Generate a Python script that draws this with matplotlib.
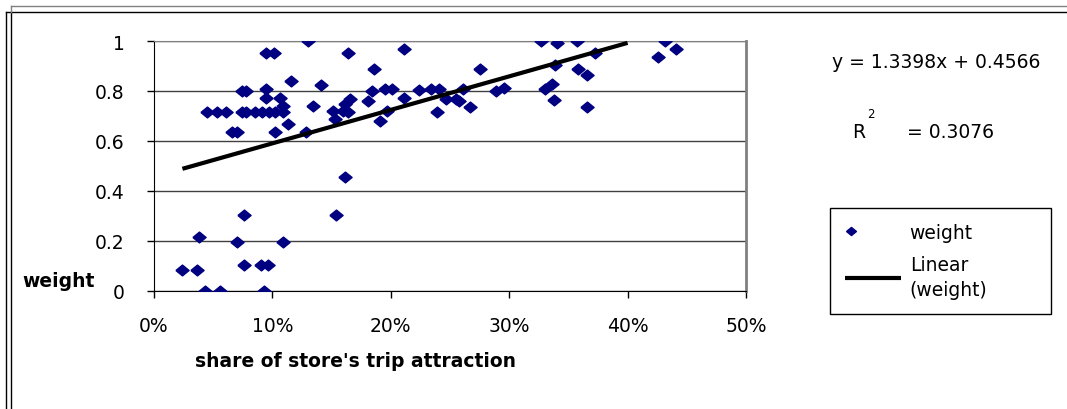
import matplotlib
matplotlib.use('Agg')
import matplotlib.pyplot as plt
from matplotlib.lines import Line2D
from matplotlib.legend_handler import HandlerLine2D

plt.rcParams['font.family'] = ['DejaVu Sans']

# share of store's trip attraction (fraction) and weight for each store
share = [0.024, 0.036, 0.038, 0.043, 0.056, 0.070, 0.076, 0.076, 0.090, 0.096,
         0.093, 0.109, 0.154, 0.161,
         0.045, 0.053, 0.061, 0.074, 0.078, 0.085, 0.091, 0.097, 0.102, 0.109,
         0.066, 0.070, 0.102, 0.113, 0.128, 0.074, 0.078, 0.095, 0.095, 0.106,
         0.109, 0.134, 0.116, 0.141, 0.095, 0.101, 0.130,
         0.151, 0.153, 0.160, 0.164, 0.161, 0.1655, 0.164, 0.181, 0.184, 0.186,
         0.191, 0.1965, 0.195, 0.201, 0.211, 0.211, 0.224, 0.234, 0.241, 0.239,
         0.247, 0.255, 0.258, 0.261, 0.267, 0.275, 0.289, 0.296,
         0.327, 0.340, 0.357, 0.3725, 0.339, 0.358, 0.366, 0.336, 0.330, 0.338,
         0.366, 0.426, 0.432, 0.441]
weight = [0.085, 0.085, 0.215, 0.0, 0.0, 0.195, 0.305, 0.105, 0.105, 0.105,
          0.0, 0.195, 0.305, 0.455,
          0.715, 0.715, 0.715, 0.715, 0.715, 0.715, 0.715, 0.715, 0.715, 0.715,
          0.635, 0.635, 0.635, 0.668, 0.637, 0.800, 0.800, 0.810, 0.772, 0.772,
          0.741, 0.739, 0.842, 0.825, 0.952, 0.952, 1.0,
          0.719, 0.688, 0.721, 0.715, 0.748, 0.768, 0.952, 0.761, 0.801, 0.888,
          0.681, 0.721, 0.810, 0.810, 0.968, 0.773, 0.805, 0.808, 0.808, 0.715,
          0.768, 0.768, 0.759, 0.808, 0.737, 0.888, 0.800, 0.812,
          1.0, 0.991, 1.0, 0.952, 0.905, 0.888, 0.865, 0.828, 0.808, 0.763,
          0.737, 0.935, 1.0, 0.968]

# linear trendline
slope = 1.3398
intercept = 0.4566
r_squared = 0.3076
trend_x = [0.024, 0.40]

x_ticks = [0, 0.1, 0.2, 0.3, 0.4, 0.5]
x_labels = ['0%', '10%', '20%', '30%', '40%', '50%']
y_ticks = [0, 0.2, 0.4, 0.6, 0.8, 1.0]
y_labels = ['0', '0.2', '0.4', '0.6', '0.8', '1']

FS = 13.5


class LeftMarker(HandlerLine2D):
    # single legend marker sits near the left end of the handle box
    def get_xdata(self, legend, xdescent, ydescent, width, height, fontsize):
        x0 = -xdescent
        return [x0, x0 + 0.2 * width], [x0 + 0.1 * width]


W, H = 1067, 410
fig = plt.figure(figsize=(W / 100, H / 100), dpi=100)
ax = fig.add_axes([154 / W, 1 - 292 / H, 592 / W, 250 / H])

diamond = [(-1, 0), (0, 0.82), (1, 0), (0, -0.82), (-1, 0)]
pts, = ax.plot(share, weight, linestyle='none', marker=diamond, markersize=9.5,
               color='#000080', label='weight', zorder=3)

trend_y = [slope * x + intercept for x in trend_x]
ax.plot(trend_x, trend_y, color='black', linewidth=3, label='Linear\n(weight)',
        zorder=4, solid_capstyle='butt')

ax.set_xlim(0, 0.5)
ax.set_ylim(0, 1)
ax.set_xticks(x_ticks)
ax.set_xticklabels(x_labels)
ax.set_yticks(y_ticks)
ax.set_yticklabels(y_labels)
ax.tick_params(axis='both', labelsize=FS, length=5, width=1, color='black',
               direction='out')
ax.tick_params(axis='y', pad=16)
ax.tick_params(axis='x', pad=13)

ax.grid(axis='y', color='#404040', linewidth=1)
ax.set_axisbelow(True)
ax.spines['left'].set_color('black')
ax.spines['bottom'].set_color('black')
ax.spines['right'].set_color('#808080')
ax.spines['right'].set_linewidth(2)
ax.spines['top'].set_color('#808080')

ax.set_xlabel("share of store's trip attraction", fontsize=FS,
              fontweight='bold', va='center')
ax.xaxis.set_label_coords(0.341, -0.28)
ax.set_ylabel('weight', fontsize=FS, fontweight='bold', rotation=0,
              ha='center', va='center')
ax.yaxis.set_label_coords(-0.162, 0.04)

# trendline equation and R squared
fig.text(832 / W, 1 - 62 / H, f'y = {slope:.4f}x + {intercept:.4f}',
         fontsize=FS, va='center', ha='left')
fig.text(852 / W, 1 - 133 / H, 'R', fontsize=FS, va='center', ha='left')
fig.text(867 / W, 1 - 114 / H, '2', fontsize=8.5, va='center', ha='left')
fig.text(907 / W, 1 - 133 / H, f'= {r_squared:.4f}', fontsize=FS,
         va='center', ha='left')

leg = fig.legend(loc='upper left', mode='expand',
                 bbox_to_anchor=(830 / W, 1 - 318 / H, 221 / W, 109 / H),
                 fontsize=FS, markerscale=0.75, handlelength=3.0,
                 handletextpad=0.45, borderpad=0.8, labelspacing=0.7,
                 fancybox=False, framealpha=1, edgecolor='black',
                 borderaxespad=0, handler_map={pts: LeftMarker()})
leg.get_frame().set_linewidth(1)
leg.get_texts()[1].set_linespacing(1.4)

# chart area border
for xs, ys, c in [([6, W], [13, 13], 'black'),
                  ([6, 6], [13, H], 'black'),
                  ([11, 11], [13, H], 'black'),
                  ([11, W], [7, 7], '#808080'),
                  ([11, 11], [7, 13], '#808080')]:
    fig.add_artist(Line2D([x / W for x in xs], [1 - y / H for y in ys],
                          color=c, linewidth=1))

fig.savefig('out.png', dpi=100)
